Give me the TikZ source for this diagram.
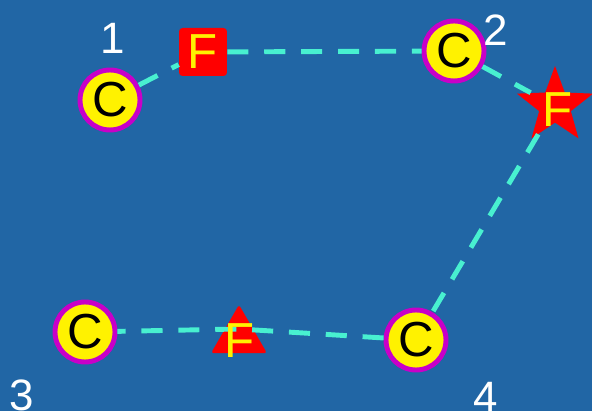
\documentclass[tikz,border=0pt]{standalone}
\usepackage{fontspec}
\setmainfont{Liberation Sans}
\usetikzlibrary{shapes.geometric}
\definecolor{bgblue}{RGB}{33,102,165}
\definecolor{route}{RGB}{72,240,208}
\definecolor{rim}{RGB}{200,0,200}
\tikzset{
  city/.style={circle, draw=rim, line width=2.8pt, fill=yellow, minimum size=1.2cm, inner sep=0pt, font=\fontsize{28}{30}\selectfont},
  depot/.style={fill=red, text=yellow, inner sep=0pt, font=\fontsize{28}{30}\selectfont},
  tag/.style={text=white, font=\fontsize{25}{30}\selectfont},
  tour/.style={route, line width=2.8pt, dash pattern=on 12pt off 9pt}
}
\begin{document}
\begin{tikzpicture}[x=0.02cm, y=-0.02cm]
  \fill[bgblue] (0,0) rectangle (592,411);
  \useasboundingbox (0,0) rectangle (592,411);
  \node[city] (c1) at (110,100) {C};
  \node[city] (c2) at (454,51) {C};
  \node[city] (c3) at (85,332) {C};
  \node[city] (c4) at (416,340) {C};
  \node[depot, rectangle, rounded corners=2pt, minimum size=0.96cm] (f1) at (203,52) {F};
  \node[depot, star, star points=5, star point ratio=2.4, minimum size=1.6cm] (f2) at (555,106) {};
  \node[depot, regular polygon, regular polygon sides=3, rounded corners=1.5pt, minimum size=1.29cm] (f3) at (239,337) {};
  \coordinate (v3) at (239,329);
  % route
  \draw[tour] (c1) -- (f1);
  \draw[tour] (f1) -- (c2);
  \draw[tour] (c2) -- (f2);
  \draw[tour] (f2) -- (c4);
  \draw[tour] (c4) -- (v3) -- (c3);
  \node[text=yellow, font=\fontsize{28}{30}\selectfont] (f2t) at (558,110) {F};
  \node[text=yellow, font=\fontsize{28}{30}\selectfont] (f3t) at (240,341) {F};
  % labels
  \node[tag] (l1) at (113,38) {1};
  \node[tag] (l2) at (496,30) {2};
  \node[tag] (l3) at (22,395) {3};
  \node[tag] (l4) at (486,397) {4};
\end{tikzpicture}
\end{document}
